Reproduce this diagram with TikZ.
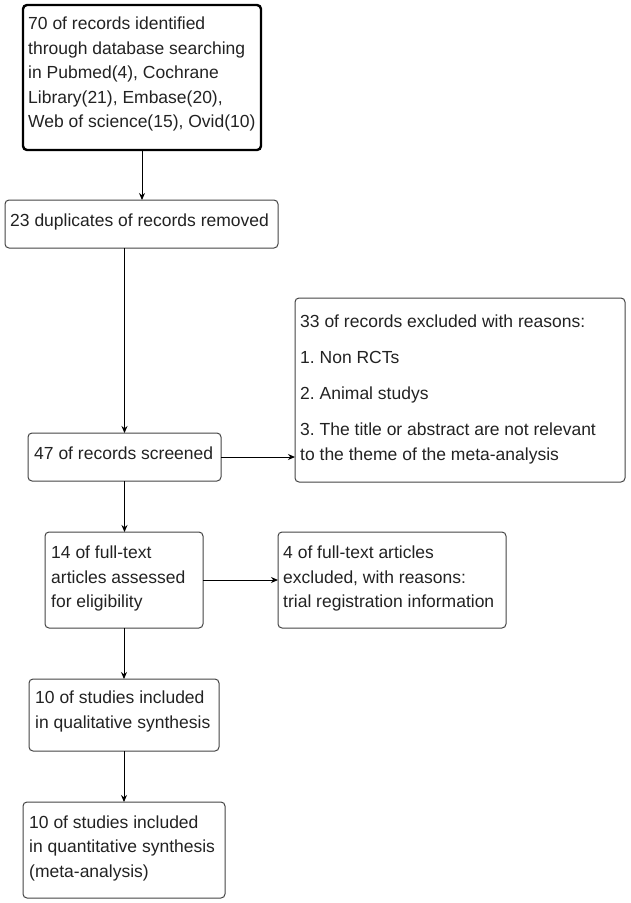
\documentclass[tikz,border=0pt]{standalone}
\usepackage{fontspec}
\setmainfont{Liberation Sans}
\usetikzlibrary{arrows.meta}
\definecolor{ink}{HTML}{222222}
\definecolor{edge}{HTML}{444444}
\frenchspacing
\begin{document}
\begin{tikzpicture}[x=1pt,y=-1pt,
  box/.style={draw=edge, line width=1pt, rounded corners=4pt, inner sep=0pt, outer sep=0pt},
  thickbox/.style={box, draw=black, line width=2.4pt},
  tx/.style={anchor=base west, inner sep=0pt, align=left, text=ink,
    font=\fontsize{17.5}{24.5}\selectfont\frenchspacing},
  arr/.style={draw=black, line width=1pt, -{Stealth[length=7pt,width=6pt]}}]
\useasboundingbox (0,0) rectangle (630,903);
\node[thickbox, minimum width=238pt, minimum height=145pt] (a) at (142,77.5) {};
\node[box, minimum width=273pt, minimum height=48pt] (b) at (141.5,224) {};
\node[box, minimum width=330pt, minimum height=184pt] (c) at (460,390) {};
\node[box, minimum width=193pt, minimum height=48pt] (d) at (124.5,457) {};
\node[box, minimum width=158pt, minimum height=96pt] (e) at (124,580) {};
\node[box, minimum width=228pt, minimum height=96pt] (f) at (392,580) {};
\node[box, minimum width=190pt, minimum height=72pt] (g) at (124,715) {};
\node[box, minimum width=202pt, minimum height=96pt] (h) at (124,850) {};
% text nodes: anchor base west sits on the LAST line's baseline
\node[tx] (ta) at (28,127.5) {70 of records identified\\through database searching\\in Pubmed(4), Cochrane\\Library(21), Embase(20),\\Web of science(15), Ovid(10)};
\node[tx] (tb) at (10,226) {23 duplicates of records removed};
\node[tx] (tc) at (300,460) {33 of records excluded with reasons:\\[11.5pt]1. Non RCTs\\[11.5pt]2. Animal studys\\[12pt]3. The title or abstract are not relevant\\to the theme of the meta-analysis};
\node[tx] (td) at (34,459) {47 of records screened};
\node[tx] (te) at (51,607.5) {14 of full-text\\articles assessed\\for eligibility};
\node[tx] (tf) at (283,607.5) {4 of full-text articles\\excluded, with reasons:\\trial registration information};
\node[tx] (tg) at (35,728) {10 of studies included\\in qualitative synthesis};
\node[tx] (th) at (29,877) {10 of studies included\\in quantitative synthesis\\(meta-analysis)};
\draw[arr] (a.south) -- (a.south |- b.north);
\draw[arr] (d.north |- b.south) -- (d.north);
\draw[arr] (d.south) -- (d.south |- e.north);
\draw[arr] (e.south) -- (g.north);
\draw[arr] (g.south) -- (h.north);
\draw[arr] (d.east) -- (c.west |- d.east);
\draw[arr] (e.east) -- (f.west);
\end{tikzpicture}
\end{document}
